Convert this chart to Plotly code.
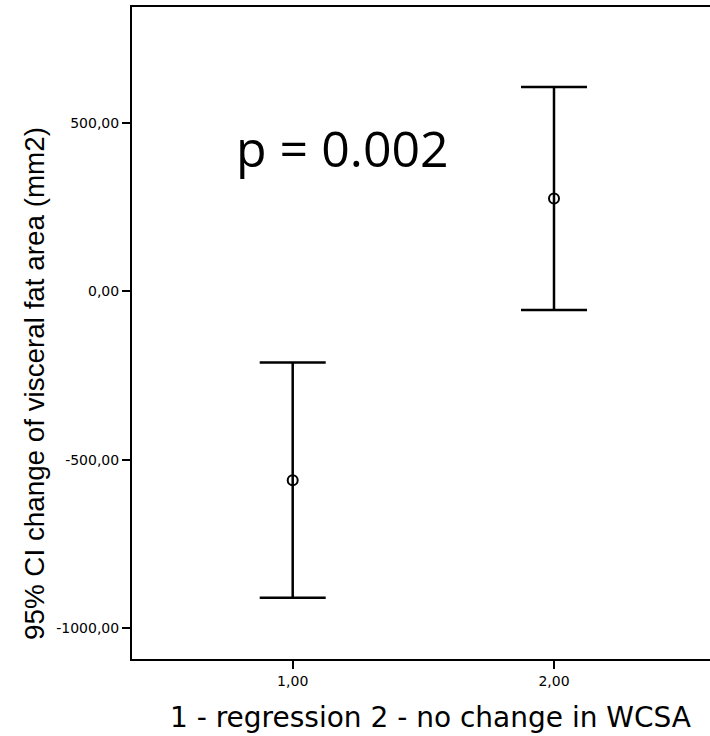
import plotly.graph_objects as go

groups = [1, 2]
means = [-561, 276]
upper = [-211, 607]
lower = [-910, -55]
ytick_vals = [-1000, -500, 0, 500]
ytick_text = ["-1000,00", "-500,00", "0,00", "500,00"]
xtick_vals = [1, 2]
xtick_text = ["1,00", "2,00"]

err_plus = [u - m for u, m in zip(upper, means)]
err_minus = [m - l for m, l in zip(means, lower)]

fig = go.Figure()
fig.add_trace(go.Scatter(
    x=groups, y=means, mode="markers",
    marker=dict(symbol="circle-open", size=10, color="black", line=dict(width=2)),
    error_y=dict(type="data", symmetric=False, array=err_plus, arrayminus=err_minus,
                 color="black", thickness=2.5, width=33),
    showlegend=False,
))

tickfont = dict(family="DejaVu Sans", size=14, color="black")
fig.update_layout(
    width=710, height=736,
    margin=dict(l=132, r=0, t=7, b=77),
    plot_bgcolor="white", paper_bgcolor="white",
    font=dict(family="Liberation Sans, Arial", color="black"),
    xaxis=dict(range=[0.385, 2.597], tickvals=xtick_vals, ticktext=xtick_text,
               showgrid=False, zeroline=False, showline=True, linecolor="black", linewidth=2,
               mirror=True, ticks="outside", ticklen=8, tickwidth=2, tickcolor="black",
               tickfont=tickfont),
    yaxis=dict(range=[-1092, 845], tickvals=ytick_vals, ticktext=ytick_text,
               showgrid=False, zeroline=False, showline=True, linecolor="black", linewidth=2,
               ticks="outside", ticklen=8, tickwidth=2, tickcolor="black",
               tickfont=tickfont),
)

def py(pix):
    return 1 - (pix - 7) / 652

def px(pix):
    return (pix - 132) / 578

fig.add_annotation(text="p = 0.002", xref="paper", yref="paper", x=px(342), y=py(112),
                   xanchor="center", yanchor="top",
                   showarrow=False, font=dict(family="Open Sans", size=50, color="black"))
fig.add_annotation(text="95% CI change of visceral fat area (mm2)", xref="paper", yref="paper",
                   x=px(34), y=py(384), xanchor="center", yanchor="middle",
                   textangle=-90, showarrow=False,
                   font=dict(family="Liberation Sans, Arial", size=27.8, color="black"))
fig.add_annotation(text="1 - regression 2 - no change in WCSA", xref="paper", yref="paper",
                   x=px(430), y=py(736), xanchor="center", yanchor="bottom",
                   showarrow=False,
                   font=dict(family="DejaVu Sans", size=28, color="black"))

fig.write_html("out.html")
